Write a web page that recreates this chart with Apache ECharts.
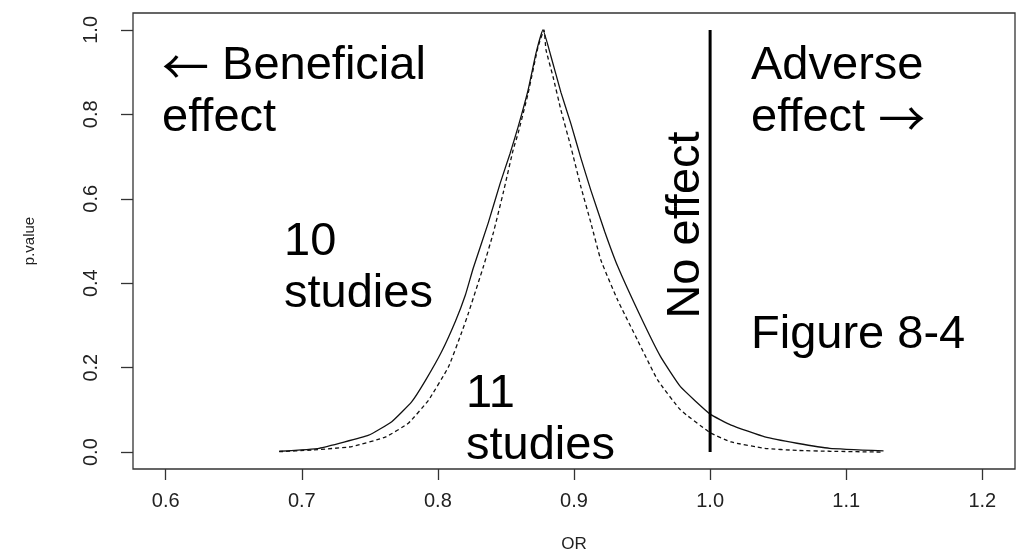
<!DOCTYPE html>
<html>
<head>
<meta charset="utf-8">
<title>P-value function</title>
<script src="https://cdn.jsdelivr.net/npm/echarts@6/dist/echarts.min.js"></script>
<style>
  html, body { margin: 0; padding: 0; background: #fff; }
  #chart { width: 1022px; height: 557px; }
</style>
</head>
<body>
<div id="chart"></div>
<script>
// p-value function, 10 studies (solid)
const orTen = [0.6834, 0.7127, 0.7492, 0.7661, 0.7807, 0.7909, 0.8026, 0.8129, 0.8202, 0.8260,
  0.8370, 0.8458, 0.8531, 0.8590, 0.8663, 0.8721, 0.8772, 0.8831, 0.8904, 0.8977, 0.9050,
  0.9124, 0.9226, 0.9321, 0.9489, 0.9636, 0.9782, 1.0000, 1.0154, 1.0402, 1.0638,
  1.0879, 1.1274];
const pTen = [0.002, 0.009, 0.040, 0.072, 0.119, 0.170, 0.237, 0.310, 0.372, 0.436,
  0.543, 0.637, 0.708, 0.771, 0.858, 0.945, 1.000, 0.937, 0.852, 0.778, 0.697,
  0.620, 0.522, 0.440, 0.321, 0.226, 0.155, 0.090, 0.064, 0.036, 0.021,
  0.009, 0.003];

// p-value function, 11 studies (dashed)
const orEleven = [0.6834, 0.7075, 0.7368, 0.7617, 0.7785, 0.7931, 0.8078, 0.8173, 0.8224, 0.8334,
  0.8407, 0.8480, 0.8553, 0.8590, 0.8663, 0.8736, 0.8780, 0.8794, 0.8846, 0.8904, 0.8977,
  0.9050, 0.9124, 0.9197, 0.9321, 0.9467, 0.9614, 0.9782, 1.0000, 1.0154, 1.0402, 1.0638,
  1.0879, 1.1274];
const pEleven = [0.001, 0.005, 0.013, 0.036, 0.069, 0.123, 0.202, 0.282, 0.329, 0.439,
  0.519, 0.614, 0.716, 0.756, 0.850, 0.960, 1.000, 0.953, 0.889, 0.810, 0.723,
  0.629, 0.543, 0.455, 0.360, 0.265, 0.171, 0.100, 0.046, 0.024, 0.009, 0.004,
  0.002, 0.000];

// null effect reference line
const noEffectOR = 1.0;
const noEffectSpan = [0, 1];

const xTicks = [0.6, 0.7, 0.8, 0.9, 1.0, 1.1, 1.2];
const yTicks = [0.0, 0.2, 0.4, 0.6, 0.8, 1.0];

const pairs = (xs, ys) => xs.map((x, i) => [x, ys[i]]);

const chart = echarts.init(document.getElementById('chart'), null, { renderer: 'canvas' });

const FONT = '"Liberation Sans", Arial, sans-serif';
const ARROW_FONT = '"Noto Sans CJK SC", "DejaVu Sans", sans-serif';
const bigText = (text, extra) => Object.assign({
  text: text,
  fontFamily: FONT, fontSize: 47, fill: '#000', lineHeight: 52,
  rich: {
    arrow: { fontFamily: ARROW_FONT, fontSize: 47, fill: '#000', lineHeight: 52 }
  }
}, extra || {});

chart.setOption({
  animation: false,
  backgroundColor: '#fff',
  grid: {
    left: 133, right: 7, top: 13, bottom: 88,
    outerBoundsMode: 'none',
    containLabel: false,
    show: true, borderColor: '#333', borderWidth: 1.3, backgroundColor: 'transparent'
  },
  xAxis: {
    type: 'value',
    min: 0.576, max: 1.224,
    name: 'OR',
    nameLocation: 'middle',
    nameGap: 67,
    nameTextStyle: { fontFamily: FONT, fontSize: 17, color: '#222' },
    axisLine: { show: false, onZero: false },
    axisTick: { show: true, length: 11, customValues: xTicks, lineStyle: { color: '#333', width: 1.3 } },
    axisLabel: {
      customValues: xTicks, margin: 22,
      fontFamily: FONT, fontSize: 20, color: '#222',
      formatter: v => v.toFixed(1)
    },
    splitLine: { show: false }
  },
  yAxis: {
    type: 'value',
    min: -0.04, max: 1.04,
    name: 'p.value',
    nameLocation: 'middle',
    nameGap: 96,
    nameTextStyle: { fontFamily: FONT, fontSize: 15, color: '#222' },
    axisLine: { show: false, onZero: false },
    axisTick: { show: true, length: 12, customValues: yTicks, lineStyle: { color: '#333', width: 1.3 } },
    axisLabel: {
      customValues: yTicks, margin: 32, rotate: 90,
      fontFamily: FONT, fontSize: 20, color: '#222',
      formatter: v => v.toFixed(1)
    },
    splitLine: { show: false }
  },
  series: [
    {
      name: '10 studies',
      type: 'line',
      data: pairs(orTen, pTen),
      showSymbol: false,
      smooth: 0.12,
      lineStyle: { color: '#111', width: 1.3 }
    },
    {
      name: '11 studies',
      type: 'line',
      data: pairs(orEleven, pEleven),
      showSymbol: false,
      smooth: 0.12,
      lineStyle: { color: '#111', width: 1.3, type: [4, 3] }
    },
    {
      name: 'No effect',
      type: 'line',
      data: noEffectSpan.map(p => [noEffectOR, p]),
      showSymbol: false,
      lineStyle: { color: '#000', width: 3 }
    }
  ],
  graphic: [
    { type: 'text', left: 162, top: 40, style: bigText('{arrow|←} Beneficial\neffect') },
    { type: 'text', left: 751, top: 40, style: bigText('Adverse\neffect {arrow|→}') },
    { type: 'text', left: 284, top: 216, style: bigText('10\nstudies') },
    { type: 'text', left: 466, top: 368, style: bigText('11\nstudies') },
    { type: 'text', left: 751, top: 309, style: bigText('Figure 8-4') },
    {
      type: 'text', x: 686, y: 225, rotation: Math.PI / 2,
      style: bigText('No effect', { align: 'center', verticalAlign: 'middle' })
    }
  ]
});
</script>
</body>
</html>
